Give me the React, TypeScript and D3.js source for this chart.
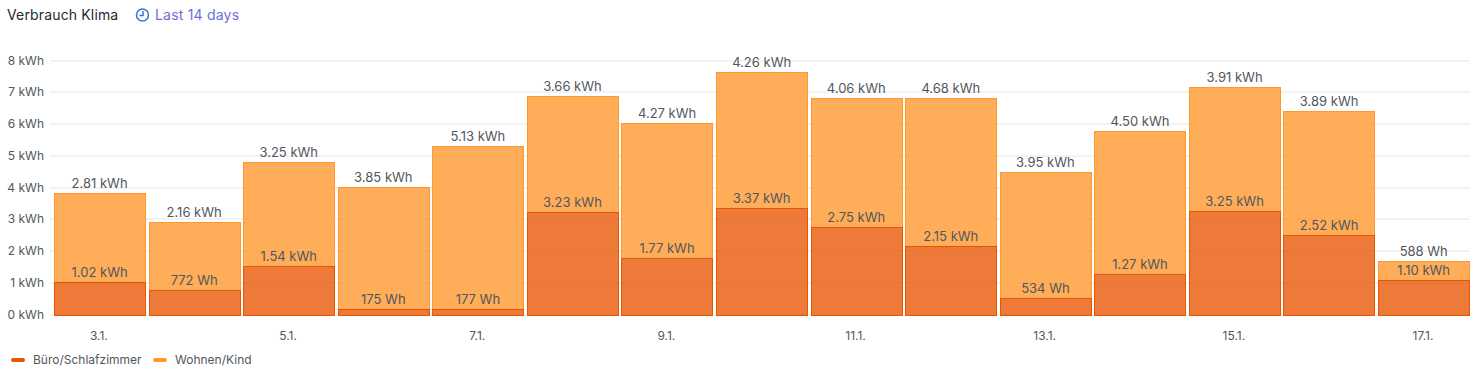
import React from "react";
import * as d3 from "d3";

const days = ["3.1.","4.1.","5.1.","6.1.","7.1.","8.1.","9.1.","10.1.","11.1.","12.1.","13.1.","14.1.","15.1.","16.1.","17.1."];
const shownDays = ["3.1.","5.1.","7.1.","9.1.","11.1.","13.1.","15.1.","17.1."];
const bueroSchlafzimmer = [1.02,0.772,1.54,0.175,0.177,3.23,1.77,3.37,2.75,2.15,0.534,1.27,3.25,2.52,1.10];
const wohnenKind = [2.81,2.16,3.25,3.85,5.13,3.66,4.27,4.26,4.06,4.68,3.95,4.50,3.91,3.89,0.588];
const yTicks = [0,1,2,3,4,5,6,7,8];

const W = 1481, H = 376;
const FONT = "Inter, sans-serif";
const TEXT = "#52575e";
const LOWER = "#e85500";
const UPPER = "#ff9830";

const fmt = (v: number) => v < 1 ? `${Math.round(v * 1000)} Wh` : `${v.toFixed(2)} kWh`;

export default function App() {
  const x = d3.scaleBand<string>().domain(days).range([52.6, 1471.3]).paddingInner(0.028).paddingOuter(0.014);
  const y = d3.scaleLinear().domain([0, 8]).range([314.7, 60.5]);
  const bw = x.bandwidth();
  const py = (v: number) => Math.round(y(v)) + 0.5;
  return (
    <svg width={W} height={H} style={{ position: "absolute", left: 0, top: 0, background: "#fff" }} fontFamily={FONT}>
      <text x={7} y={20} fontSize={14} letterSpacing={0.15} fill="#24292e">Verbrauch Klima</text>
      <g fill="none" stroke="#3d71d9" strokeWidth={1.5}>
        <circle cx={142.5} cy={15} r={6} />
        <path d="M143 11V15.5H139.5" />
      </g>
      <text x={155} y={20} fontSize={14} letterSpacing={0.2} fill="#6e6fd8">Last 14 days</text>

      {yTicks.map(t => (
        <g key={t}>
          <line x1={50} x2={1470} y1={py(t) - 0.5} y2={py(t) - 0.5} stroke="#e6e6e7" />
          <text x={44} y={y(t) + 4} textAnchor="end" fontSize={12} fill={TEXT}>{t} kWh</text>
        </g>
      ))}

      {days.map((d, i) => {
        const lo = bueroSchlafzimmer[i], up = wohnenKind[i];
        const x0 = Math.round(x(d)!) + 0.5;
        const w = Math.round(bw) - 1;
        return (
          <g key={d}>
            <rect x={x0} y={py(lo + up)} width={w} height={py(lo) - py(lo + up)} fill={UPPER} fillOpacity={0.8} stroke={UPPER} />
            <rect x={x0} y={py(lo)} width={w} height={py(0) - py(lo)} fill={LOWER} fillOpacity={0.78} stroke={LOWER} />
          </g>
        );
      })}
      {days.map((d, i) => {
        const lo = bueroSchlafzimmer[i], up = wohnenKind[i];
        const cx = x(d)! + bw / 2 - 0.3;
        return (
          <g key={d} fontSize={13} textAnchor="middle" fill={TEXT}>
            <text x={cx} y={y(lo + up) - 5}>{fmt(up)}</text>
            <text x={cx} y={y(lo) - 5}>{fmt(lo)}</text>
          </g>
        );
      })}
      {shownDays.map(d => (
        <text key={d} x={x(d)! + bw / 2 - 1} y={340} textAnchor="middle" fontSize={12} fill={TEXT}>{d}</text>
      ))}

      <rect x={11} y={358} width={14} height={4} rx={2} fill={LOWER} />
      <text x={33} y={364} fontSize={12} fill={TEXT}>Büro/Schlafzimmer</text>
      <rect x={153} y={358} width={14} height={4} rx={2} fill={UPPER} />
      <text x={175} y={364} fontSize={12} fill={TEXT}>Wohnen/Kind</text>
    </svg>
  );
}
